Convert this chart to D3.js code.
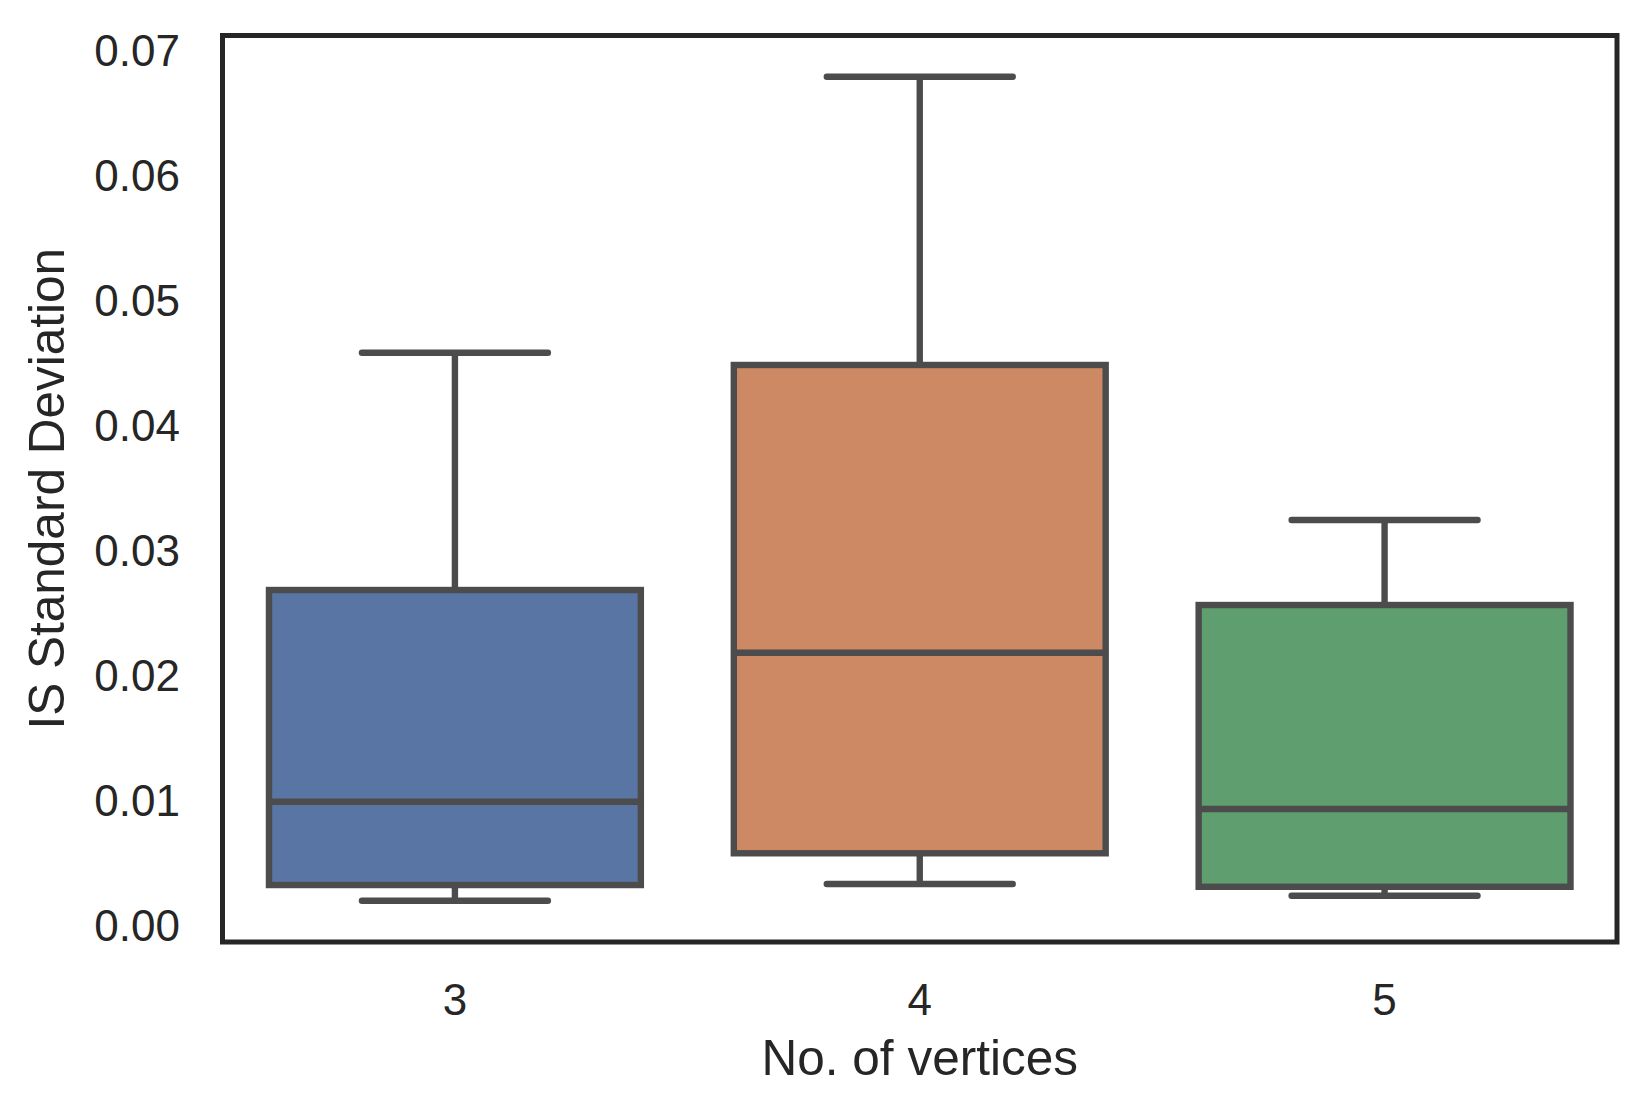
<!DOCTYPE html>
<html>
<head>
<meta charset="utf-8">
<script src="https://cdn.jsdelivr.net/npm/d3@7"></script>
<style>
  html, body { margin: 0; padding: 0; background: #ffffff; }
  svg { display: block; }
  text { font-family: "Liberation Sans", Arial, "DejaVu Sans", sans-serif; fill: #262626; }
</style>
</head>
<body>
<div id="chart"></div>
<script>
// ---- data ----
const categories   = ["3", "4", "5"];
const whiskerLow   = [0.00194, 0.00328, 0.00234];
const q1Values     = [0.00320, 0.00574, 0.00306];
const medianValues = [0.00986, 0.02178, 0.00928];
const q3Values     = [0.02680, 0.04480, 0.02560];
const whiskerHigh  = [0.04578, 0.06786, 0.03240];
const yTickValues  = [0.00, 0.01, 0.02, 0.03, 0.04, 0.05, 0.06, 0.07];
const boxColors    = ["#5875a4", "#cc8963", "#5f9e6e"];
const xTitle = "No. of vertices";
const yTitle = "IS Standard Deviation";

// ---- layout ----
const W = 1652, H = 1115;
const plot = { left: 222.5, right: 1617, top: 35.5, bottom: 942 };
const lineColor = "#4c4c4c";
const lw = 6.4;

const svg = d3.select("#chart").append("svg")
  .attr("width", W).attr("height", H)
  .attr("viewBox", `0 0 ${W} ${H}`);

const dataMin = d3.min(whiskerLow), dataMax = d3.max(whiskerHigh);
const margin = (dataMax - dataMin) * 0.05;
const y = d3.scaleLinear()
  .domain([dataMin - margin, dataMax + margin])
  .range([plot.bottom, plot.top]);

const x = d3.scaleBand()
  .domain(categories)
  .range([plot.left, plot.right])
  .paddingInner(0.2)
  .paddingOuter(0.1);

const rows = categories.map((c, i) => ({
  cat: c, lo: whiskerLow[i], q1: q1Values[i], med: medianValues[i],
  q3: q3Values[i], hi: whiskerHigh[i], color: boxColors[i]
}));

const g = svg.append("g");
const bw = x.bandwidth();
const cx = d => x(d.cat) + bw / 2;
const capHalf = bw / 4;

const groups = g.selectAll("g.box").data(rows).enter().append("g").attr("class", "box");

// whiskers
groups.append("line")
  .attr("x1", cx).attr("x2", cx)
  .attr("y1", d => y(d.q3)).attr("y2", d => y(d.hi))
  .attr("stroke", lineColor).attr("stroke-width", lw);
groups.append("line")
  .attr("x1", cx).attr("x2", cx)
  .attr("y1", d => y(d.q1)).attr("y2", d => y(d.lo))
  .attr("stroke", lineColor).attr("stroke-width", lw);
// caps
groups.append("line")
  .attr("x1", d => cx(d) - capHalf).attr("x2", d => cx(d) + capHalf)
  .attr("y1", d => y(d.hi)).attr("y2", d => y(d.hi))
  .attr("stroke", lineColor).attr("stroke-width", lw).attr("stroke-linecap", "round");
groups.append("line")
  .attr("x1", d => cx(d) - capHalf).attr("x2", d => cx(d) + capHalf)
  .attr("y1", d => y(d.lo)).attr("y2", d => y(d.lo))
  .attr("stroke", lineColor).attr("stroke-width", lw).attr("stroke-linecap", "round");
// boxes
groups.append("rect")
  .attr("x", d => x(d.cat)).attr("width", bw)
  .attr("y", d => y(d.q3)).attr("height", d => y(d.q1) - y(d.q3))
  .attr("fill", d => d.color)
  .attr("stroke", lineColor).attr("stroke-width", lw);
// medians
groups.append("line")
  .attr("x1", d => x(d.cat)).attr("x2", d => x(d.cat) + bw)
  .attr("y1", d => y(d.med)).attr("y2", d => y(d.med))
  .attr("stroke", lineColor).attr("stroke-width", lw);

// frame
svg.append("rect")
  .attr("x", plot.left).attr("y", plot.top)
  .attr("width", plot.right - plot.left).attr("height", plot.bottom - plot.top)
  .attr("fill", "none").attr("stroke", "#262626").attr("stroke-width", 5);

// y axis ticks
const yAxis = d3.axisLeft(y).tickValues(yTickValues).tickFormat(d3.format(".2f")).tickSize(0).tickPadding(0);
const yg = svg.append("g").attr("transform", `translate(180,0)`).call(yAxis);
yg.select(".domain").remove();
yg.selectAll("text")
  .attr("x", 0).attr("dy", "0.35em")
  .style("font-size", "44px").style("fill", "#262626")
  .style("font-family", '"Liberation Sans", Arial, sans-serif');

// x axis ticks
const xAxis = d3.axisBottom(x).tickSize(0).tickPadding(0);
const xg = svg.append("g").attr("transform", `translate(0,1015)`).call(xAxis);
xg.select(".domain").remove();
xg.selectAll("text")
  .attr("y", 0).attr("dy", "0")
  .style("font-size", "44px").style("fill", "#262626")
  .style("font-family", '"Liberation Sans", Arial, sans-serif');

// axis titles
svg.append("text")
  .attr("x", (plot.left + plot.right) / 2).attr("y", 1075)
  .attr("text-anchor", "middle")
  .style("font-size", "49.5px")
  .text(xTitle);

svg.append("text")
  .attr("transform", `translate(64,${(plot.top + plot.bottom) / 2}) rotate(-90)`)
  .attr("text-anchor", "middle")
  .style("font-size", "49.5px")
  .text(yTitle);
</script>
</body>
</html>
